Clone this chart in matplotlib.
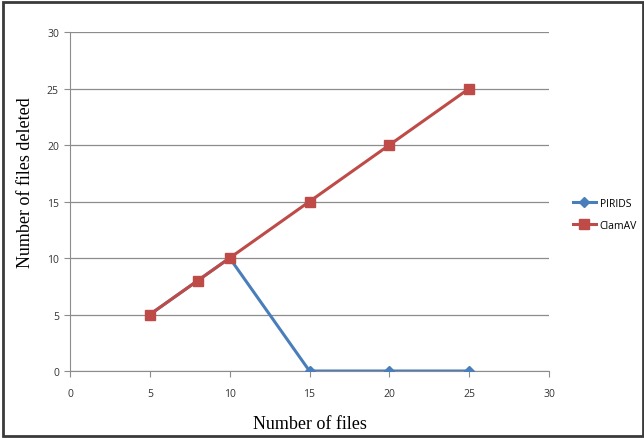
import matplotlib
matplotlib.use("Agg")
import matplotlib.pyplot as plt
from matplotlib.patches import Rectangle

files = [5, 8, 10, 15, 20, 25]
pirids = [5, 8, 10, 0, 0, 0]
clamav = [5, 8, 10, 15, 20, 25]

fig = plt.figure(figsize=(6.44, 4.39), dpi=100)
ax = fig.add_axes([0.1087, 0.1526, 0.7438, 0.7722])

ax.plot(files, pirids, color="#4A7EBB", lw=2.2, marker="D", ms=5, label="PIRIDS", zorder=3)
ax.plot(files, clamav, color="#BE4B48", lw=2.2, marker="s", ms=7, label="ClamAV", zorder=4)

ax.set_xlim(0, 30)
ax.set_ylim(0, 30)
ax.set_xticks(range(0, 31, 5))
ax.set_yticks(range(0, 31, 5))
ax.yaxis.grid(True, color="#8c8c8c", lw=0.9)
ax.set_axisbelow(True)
for s in ["top", "right"]:
    ax.spines[s].set_visible(False)
for s in ["left", "bottom"]:
    ax.spines[s].set_color("#8c8c8c")
ax.tick_params(colors="#8c8c8c", labelcolor="#333333", labelsize=7.5, length=4)
ax.tick_params(axis="x", pad=8)
ax.tick_params(axis="y", pad=4)
for lab in ax.get_xticklabels() + ax.get_yticklabels():
    lab.set_family("Open Sans")

ax.set_xlabel("Number of files", family="Liberation Serif", fontsize=13)
ax.xaxis.set_label_coords(0.5, -0.13)
ax.set_ylabel("Number of files deleted", family="Liberation Serif", fontsize=13)
ax.yaxis.set_label_coords(-0.075, 0.56)

leg = ax.legend(loc="center left", bbox_to_anchor=(1.03, 0.462), frameon=False,
                prop={"family": "Open Sans", "size": 7.5}, handlelength=2.2,
                handletextpad=0.4, labelspacing=1.1)

fig.patches.append(Rectangle((0.004, 0.004), 0.994, 0.99, transform=fig.transFigure,
                             fill=False, ec="#3a3a3a", lw=2))

fig.savefig("out.png", dpi=100)
